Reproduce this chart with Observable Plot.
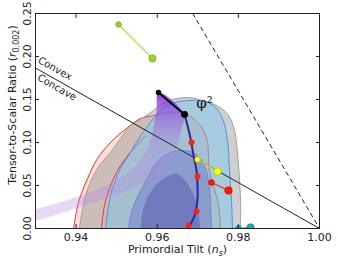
<!DOCTYPE html>
<html><head><meta charset="utf-8">
<script src="https://cdn.jsdelivr.net/npm/d3@7"></script>
<script src="https://cdn.jsdelivr.net/npm/@observablehq/plot@0.6"></script>
<style>
body{margin:0;background:#fff;}
svg{font-family:"DejaVu Sans",sans-serif;}
</style>
</head><body><div id="chart"></div>
<script>
// ---- axes ----
const xTicks = [0.94, 0.96, 0.98, 1.00];
const yTicks = [0.00, 0.05, 0.10, 0.15, 0.20, 0.25];
const xLabel = "Primordial Tilt (ns)";
const xLabelParts = [["Primordial Tilt (", ""], ["n", "i"], ["s", "is"], [")", ""]];
const yLabel = "Tensor-to-Scalar Ratio (r0.002)";
const yLabelParts = [["Tensor-to-Scalar Ratio (", ""], ["r", "i"], ["0.002", "s"], [")", ""]];

// ---- contours [n_s, r] ----
const red95 = [[0.93937,0],[0.9406,0.0302],[0.94282,0.0581],[0.94528,0.0814],[0.94849,0.1000],[0.95268,0.1174],[0.95588,0.1279],[0.95909,0.1314],[0.96204,0.1349],[0.96525,0.1349],[0.96771,0.1314],[0.96944,0.1256],[0.97116,0.1163],[0.9724,0.1000],[0.97264,0.0814],[0.97289,0.0651],[0.97387,0.0500],[0.97511,0.0267],[0.9756,0]];
const red68Edge = [[0.94627,0],[0.947,0.0267],[0.94824,0.0465],[0.94997,0.0651],[0.95218,0.0814],[0.95465,0.0953],[0.95712,0.1081]];
const gray95 = [[0.94085,0],[0.94232,0.0384],[0.94528,0.0698],[0.94849,0.0884],[0.95095,0.1047],[0.95342,0.1198],[0.95662,0.1291],[0.95909,0.1372],[0.96081,0.1442],[0.96278,0.1488],[0.96771,0.1523],[0.9719,0.1477],[0.97511,0.1419],[0.97757,0.1314],[0.97905,0.1140],[0.98004,0.0733],[0.98053,0.0326],[0.98053,0]];
const blue95 = [[0.94725,0],[0.94849,0.0384],[0.95095,0.0698],[0.95342,0.0884],[0.95588,0.1081],[0.95835,0.1233],[0.96032,0.1349],[0.96278,0.1442],[0.96771,0.1488],[0.9719,0.1477],[0.97437,0.1407],[0.97609,0.1279],[0.97733,0.1023],[0.97782,0.0674],[0.97831,0.0326],[0.97856,0]];
const dark95 = [[0.95292,0],[0.95342,0.0151],[0.9544,0.0291],[0.95588,0.0442],[0.95761,0.0593],[0.95909,0.0721],[0.96081,0.0814],[0.96328,0.0884],[0.96574,0.0907],[0.96821,0.0895],[0.97018,0.0837],[0.97166,0.0733],[0.97264,0.0558],[0.97313,0.0326],[0.97338,0]];
const dark68 = [[0.95588,0],[0.95637,0.0186],[0.95761,0.036],[0.95958,0.05],[0.96204,0.0593],[0.96451,0.064],[0.96648,0.0581],[0.96821,0.0465],[0.96944,0.0326],[0.97018,0.0163],[0.97067,0]];
// natural-inflation band: N=50 edge then N=60 edge
const natBand = [[0.928,0.021],[0.93,0.0225],[0.93616,0.0305],[0.94356,0.0425],[0.94849,0.0523],[0.95292,0.0651],[0.95588,0.0791],[0.95785,0.0965],[0.95909,0.1163],[0.95983,0.1372],[0.96032,0.1581],[0.96673,0.1326],[0.96599,0.1163],[0.965,0.0965],[0.96328,0.0791],[0.96032,0.064],[0.95588,0.0512],[0.94972,0.0384],[0.94356,0.0291],[0.93616,0.0174],[0.93,0.0093],[0.928,0.008]];

// ---- lines ----
const convexLine = [[0.93,0.18667],[1.0,0]];
const powerLawLine = [[0.96875,0.25],[1.0,0]];
const phi2Line = [[0.96032,0.1581],[0.96673,0.1326]];
const navyLine = [[0.96673,0.1326],[0.96747,0.1198],[0.96821,0.1047],[0.96895,0.0849],[0.96968,0.0674],[0.96993,0.05],[0.96993,0.0349],[0.96944,0.0186],[0.9687,0.0093],[0.96747,0]];
const navyDots = [[0.96845,0.1],[0.96993,0.0605],[0.96968,0.0198],[0.96771,0.0035]];
const greenPts = [[0.95046,0.2372],[0.95884,0.1977]];
const yellowPts = [[0.96993,0.0802],[0.97486,0.0663]];
const redPts = [[0.97338,0.0535],[0.97757,0.0442]];
const tealPts = [[0.98004,0],[0.983,0.0012]];

// ---- annotations ----
const notes = [
  {x:0.9348, y:0.186, text:"Convex"},
  {x:0.9353, y:0.164, text:"Concave"}
];
const phiNote = [{x:0.97166, y:0.1453, text:"φ²"}];

const cr = "catmull-rom";
const svg = Plot.plot({
  width: 339, height: 259,
  marginLeft: 35, marginRight: 20, marginTop: 13, marginBottom: 31,
  x: {domain: [0.93, 1.0]},
  y: {domain: [0, 0.25]},
  style: {fontFamily: "DejaVu Sans, sans-serif", fontSize: "11px", background: "#fff", color: "#222"},
  marks: [
    Plot.line(red95, {curve: cr, fill: "#f4937f", fillOpacity: 0.3, stroke: "#e8322d", strokeWidth: 1}),
    Plot.line(gray95, {curve: cr, fill: "#959595", fillOpacity: 0.45, stroke: "#a0a0a0", strokeWidth: 1}),
    Plot.line(red68Edge, {curve: cr, stroke: "#e8322d", strokeWidth: 1}),
    Plot.line(blue95, {curve: cr, fill: "#6ec4f4", fillOpacity: 0.42, stroke: "#4d92e6", strokeWidth: 1}),
    Plot.line(dark95, {curve: cr, fill: "#5048c8", fillOpacity: 0.3, stroke: "#5060d4", strokeWidth: 0.8, strokeOpacity: 0.6}),
    Plot.line(dark68, {curve: cr, fill: "#3a2fa0", fillOpacity: 0.32}),
    Plot.line(natBand, {curve: cr, fill: "url(#natGrad)", clip: true}),
    Plot.line(convexLine, {stroke: "#222", strokeWidth: 1}),
    Plot.line(powerLawLine, {stroke: "#222", strokeWidth: 1, strokeDasharray: "4,4"}),
    Plot.line(navyLine, {curve: cr, stroke: "#2a2a96", strokeWidth: 2, clip: true}),
    Plot.dot(navyDots, {r: 3, fill: "#ff2010", stroke: "none"}),
    Plot.line(phi2Line, {stroke: "#000", strokeWidth: 2}),
    Plot.dot(phi2Line, {r: (d, i) => i ? 4.2 : 2.6, fill: "#000", stroke: "none"}),
    Plot.line(greenPts, {stroke: "#a6e04a", strokeWidth: 1.2}),
    Plot.dot(greenPts, {r: (d, i) => i ? 4.5 : 2.6, fill: "#9acd32", stroke: "#78b020", strokeWidth: 0.8}),
    Plot.line(yellowPts, {stroke: "#e6e600", strokeWidth: 1.2}),
    Plot.dot(yellowPts, {r: (d, i) => i ? 4.6 : 2.6, fill: "#ffff00", stroke: "#c8c800", strokeWidth: 0.8}),
    Plot.line(redPts, {stroke: "#ee2a1a", strokeWidth: 1.2}),
    Plot.dot(redPts, {r: (d, i) => i ? 4.8 : 2.8, fill: "#ff1a00", stroke: "#d01000", strokeWidth: 0.8}),
    Plot.line(tealPts, {stroke: "#19a8b8", strokeWidth: 1.2, clip: true}),
    Plot.dot(tealPts, {r: (d, i) => i ? 4.5 : 3, fill: "#19a8b8", stroke: "#108898", strokeWidth: 0.8, clip: true}),
    Plot.text(notes, {x: "x", y: "y", text: "text", rotate: 29.6, fontSize: 10, fill: "#222"}),
    Plot.text(phiNote, {x: "x", y: "y", text: "text", fontSize: 15, fontFamily: "DejaVu Serif", fill: "#111"}),
    Plot.frame({stroke: "#222", strokeWidth: 1}),
    Plot.axisX(xTicks, {anchor: "bottom", tickSize: 0, tickPadding: 5, tickFormat: d3.format(".2f"), label: null, fontSize: 11}),
    Plot.axisX(xTicks, {anchor: "bottom", tickSize: -4, fill: "none", label: null}),
    Plot.axisX(xTicks, {anchor: "top", tickSize: -4, fill: "none", label: null}),
    Plot.axisY(yTicks, {anchor: "left", tickSize: 0, tickPadding: 5, tickRotate: -90, tickFormat: d3.format(".2f"), label: null, fontSize: 11}),
    Plot.axisY(yTicks, {anchor: "left", tickSize: -4, fill: "none", label: null}),
    Plot.axisY(yTicks, {anchor: "right", tickSize: -4, fill: "none", label: null}),
    Plot.text([xLabel], {frameAnchor: "bottom", dy: 21, lineAnchor: "middle", textAnchor: "middle", text: d => d, fontSize: 11}),
    Plot.text([yLabel], {frameAnchor: "left", dx: -23, dy: -16, rotate: -90, lineAnchor: "middle", textAnchor: "middle", text: d => d, fontSize: 11})
  ]
});

const NS = "http://www.w3.org/2000/svg";
const defs = document.createElementNS(NS, "defs");
defs.innerHTML = '<linearGradient id="natGrad" x1="0" y1="0" x2="0" y2="1">' +
  '<stop offset="0" stop-color="#8424e0" stop-opacity="0.88"/>' +
  '<stop offset="0.2" stop-color="#9650e0" stop-opacity="0.55"/>' +
  '<stop offset="0.42" stop-color="#a880e0" stop-opacity="0.32"/>' +
  '<stop offset="1" stop-color="#b08ae2" stop-opacity="0.32"/>' +
  '</linearGradient>';
svg.insertBefore(defs, svg.firstChild);

function rich(plain, parts) {
  for (const t of svg.querySelectorAll("text")) {
    if (t.textContent === plain) {
      while (t.firstChild) t.removeChild(t.firstChild);
      let shift = 0;
      for (const [s, st] of parts) {
        const ts = document.createElementNS(NS, "tspan");
        ts.textContent = s;
        if (st.includes("i")) ts.setAttribute("font-style", "italic");
        const want = st.includes("s") ? 3 : 0;
        if (want !== shift) { ts.setAttribute("dy", want - shift); shift = want; }
        if (st.includes("s")) ts.setAttribute("font-size", "8");
        t.appendChild(ts);
      }
    }
  }
}
rich(xLabel, xLabelParts);
rich(yLabel, yLabelParts);
document.getElementById("chart").appendChild(svg);
</script>
</body></html>
